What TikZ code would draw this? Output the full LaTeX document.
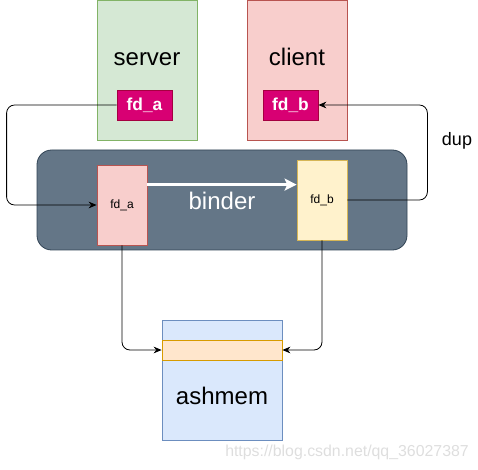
\documentclass[tikz,border=0pt]{standalone}
\usepackage{fontspec}
\setmainfont{Liberation Sans}
\usetikzlibrary{calc}
\usetikzlibrary{arrows.meta}
\definecolor{gfill}{HTML}{D5E8D4}
\definecolor{gline}{HTML}{82B366}
\definecolor{rfill}{HTML}{F8CECC}
\definecolor{rline}{HTML}{B85450}
\definecolor{mfill}{HTML}{D80073}
\definecolor{mline}{HTML}{A50040}
\definecolor{bfill}{HTML}{647687}
\definecolor{bline}{HTML}{314354}
\definecolor{yfill}{HTML}{FFF2CC}
\definecolor{yline}{HTML}{D6B656}
\definecolor{afill}{HTML}{DAE8FC}
\definecolor{aline}{HTML}{6C8EBF}
\definecolor{ofill}{HTML}{FFE6CC}
\definecolor{oline}{HTML}{D79B00}

\begin{document}
\begin{tikzpicture}[
    x=0.75pt, y=-0.75pt,
    font=\fontsize{18pt}{21pt}\selectfont,
    box/.style={
        draw, line width=0.6pt, inner sep=0pt,
        minimum width=75pt, minimum height=105pt
    },
    fd/.style={
        fill=mfill, draw=mline, line width=0.6pt, inner sep=0pt,
        minimum width=41.25pt, minimum height=22.5pt,
        text=white, font=\fontsize{13pt}{15pt}\selectfont\bfseries
    },
    inbox/.style={
        draw, line width=0.6pt, inner sep=0pt,
        minimum width=37.5pt, minimum height=60pt,
        font=\fontsize{9pt}{11pt}\selectfont
    },
    t/.style={anchor=base, inner sep=0pt},
    c/.style={
        line width=0.6pt, rounded corners=6pt,
        -{Stealth[length=6pt,width=5pt]}
    },
    w/.style={
        line width=2.2pt, color=white,
        -{Stealth[length=9pt,width=9pt,inset=2pt]}
    }
]
    \useasboundingbox (0,0) rectangle (478,470);

    \node [box, fill=gfill, draw=gline] (S) at (147,70) {};
    \node [box, fill=rfill, draw=rline] (C) at (297,70) {};
    \node [t] (St) at (147,66) {server};
    \node [t] (Ct) at (297,66) {client};
    \node [fd] (fa) at (144.5,105) {fd\_a};
    \node [fd] (fb) at (290.5,105) {fd\_b};

    \node [fill=bfill, draw=bline, line width=0.6pt, rounded corners=11pt,
        minimum width=277.5pt, minimum height=75pt] (B) at (222,200) {};
    \node [inbox, fill=rfill, draw=rline] (fda) at (122,205) {fd\_a};
    \node [inbox, fill=yfill, draw=yline] (fdb) at (322,200) {fd\_b};
    \node [t, text=white] (Bt) at (222,210) {binder};
    \draw [w] ($(fda.north east)+(0,20)$) -- ($(fdb.north west)+(0,25)$);

    \node [box, fill=afill, draw=aline, minimum width=90pt, minimum height=90pt]
        (A) at (222,380) {};
    \node [fill=ofill, draw=oline, line width=0.6pt, inner sep=0pt,
        minimum width=90pt, minimum height=15pt] (band) at (222,350) {};
    \node [t] (At) at (222,404) {ashmem};

    \draw [c] (fa.west) -- ++(-110,0) |- (fda.west);
    \draw [c] (fdb.east) -- ++(80,0) |- (fb.east);
    \node [t, font=\fontsize{13.5pt}{15pt}\selectfont] (dup) at (457,146) {dup};
    \draw [c] (fda.south) |- (band.west);
    \draw [c] (fdb.south) |- (band.east);

    \node [text=black!13, font=\fontsize{11.9pt}{14pt}\selectfont] (wm)
        at (347,452) {https://blog.csdn.net/qq\_36027387};

\end{tikzpicture}
\end{document}
